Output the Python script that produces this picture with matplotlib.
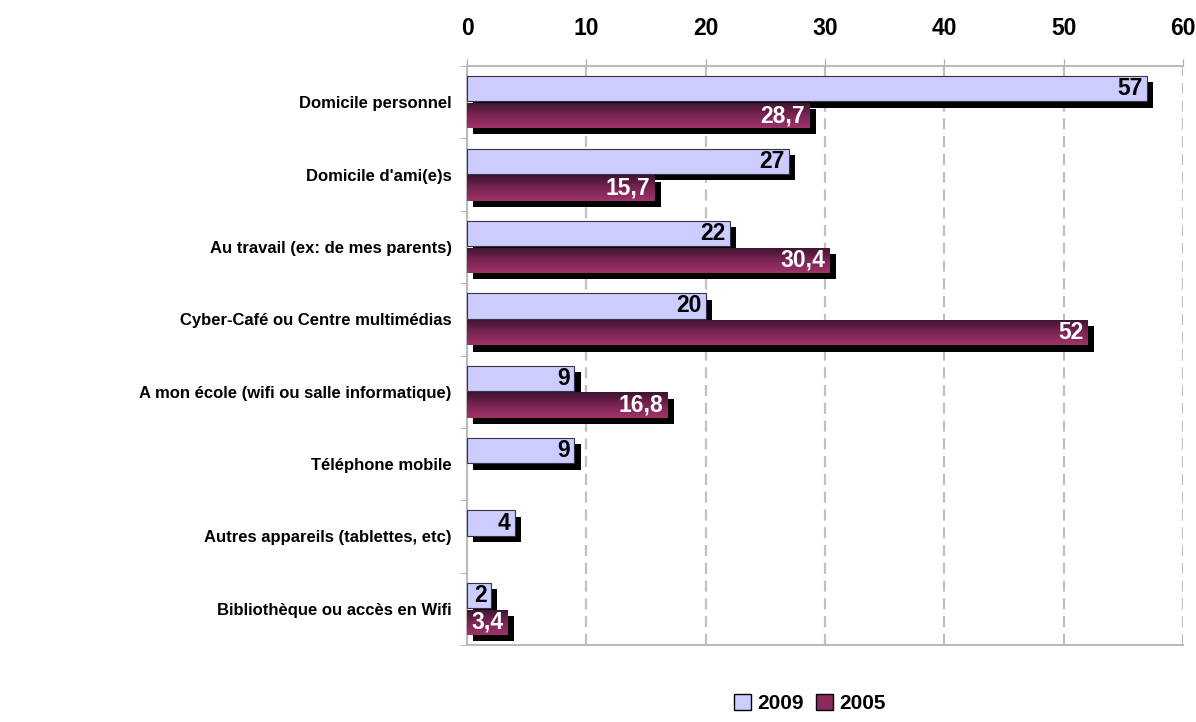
import numpy as np
import matplotlib
matplotlib.use('Agg')
import matplotlib.pyplot as plt
import matplotlib.patheffects as pe
from matplotlib.patches import Patch
from matplotlib.colors import LinearSegmentedColormap

plt.rcParams['font.family'] = ['Liberation Sans', 'DejaVu Sans']

categories = ["Domicile personnel", "Domicile d'ami(e)s", "Au travail (ex: de mes parents)",
              "Cyber-Café ou Centre multimédias", "A mon école (wifi ou salle informatique)",
              "Téléphone mobile", "Autres appareils (tablettes, etc)", "Bibliothèque ou accès en Wifi"]
v2009 = [57, 27, 22, 20, 9, 9, 4, 2]
v2005 = [28.7, 15.7, 30.4, 52, 16.8, None, None, 3.4]
xticks = [0, 10, 20, 30, 40, 50, 60]

fig = plt.figure(figsize=(11.96, 7.22), dpi=100)
ax = fig.add_axes([0.3905, 0.1066, 0.5985, 0.802])

y = np.arange(len(categories))
h = 0.35
shadow = [pe.SimplePatchShadow(offset=(4.5, -4.5), shadow_rgbFace='black', alpha=1), pe.Normal()]
grad = LinearSegmentedColormap.from_list('g', ['#3e1430', '#7a2453', '#a03369'])

def fmt(v):
    return ('%g' % v).replace('.', ',')

for i, (a, b) in enumerate(zip(v2009, v2005)):
    r = ax.barh(y[i] - h / 2 - 0.01, a, height=h, color='#ccccff', edgecolor='#333344',
                linewidth=0.8, zorder=3)[0]
    r.set_path_effects(shadow)
    ax.annotate(fmt(a), (a, y[i] - h / 2 - 0.01), xytext=(-3, 0), textcoords='offset points',
                ha='right', va='center', fontsize=16.5, fontweight='bold', color='black', zorder=5)
    if b is not None:
        yc = y[i] + h / 2 + 0.01
        r2 = ax.barh(yc, b, height=h, color='#8b2a5e', edgecolor='none', zorder=3)[0]
        r2.set_path_effects(shadow)
        im = ax.imshow(np.linspace(0, 1, 64).reshape(-1, 1), cmap=grad, aspect='auto',
                       extent=(0, b, yc + h / 2, yc - h / 2), zorder=4, interpolation='bilinear')
        im.set_clip_path(r2)
        ax.annotate(fmt(b), (b, yc), xytext=(-3, 0), textcoords='offset points',
                    ha='right', va='center', fontsize=16.5, fontweight='bold', color='white', zorder=5)

ax.set_xlim(0, 60)
ax.set_ylim(len(categories) - 0.5, -0.5)
ax.set_xticks(xticks)
ax.xaxis.tick_top()
ax.tick_params(axis='x', labelsize=16.5, colors='black', length=5, color='#aaaaaa', pad=14)
for t in ax.get_xticklabels():
    t.set_fontweight('bold')
ax.set_yticks(y)
ax.set_yticklabels(categories, fontsize=12, fontweight='bold')
ax.set_yticks(np.arange(len(categories) + 1) - 0.5, minor=True)
ax.tick_params(axis='y', which='major', length=0, pad=11)
ax.tick_params(axis='y', which='minor', length=5, color='#aaaaaa')
ax.xaxis.grid(True, color='#c0c0c0', linestyle=(0, (5, 3)), linewidth=1.6, zorder=0)
ax.set_axisbelow(True)
for s in ['left', 'bottom', 'top']:
    ax.spines[s].set_color('#bbbbbb')
    ax.spines[s].set_linewidth(1.5)
ax.spines['right'].set_visible(False)

handles = [Patch(facecolor='#ccccff', edgecolor='black', label='2009'),
           Patch(facecolor='#8b2a5e', edgecolor='black', label='2005')]
leg = fig.legend(handles=handles, loc='lower center', bbox_to_anchor=(0.677, -0.014), ncol=2,
                 frameon=False, handlelength=0.8, handleheight=0.8, handletextpad=0.3,
                 columnspacing=0.6, prop={'size': 15, 'weight': 'bold'})

fig.savefig('out.png', dpi=100)
